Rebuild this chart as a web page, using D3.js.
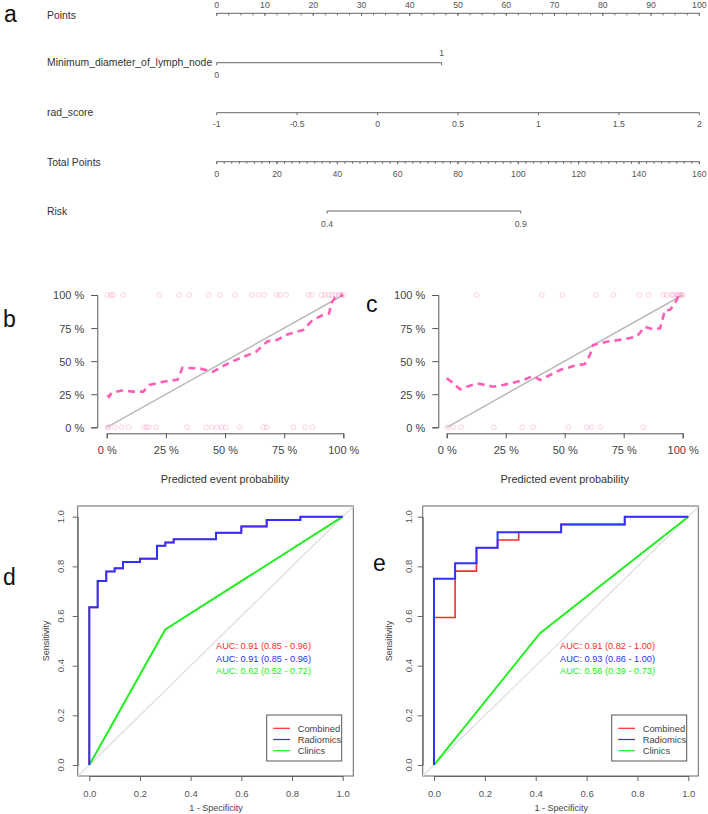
<!DOCTYPE html>
<html>
<head>
<meta charset="utf-8">
<script src="https://cdn.jsdelivr.net/npm/d3@7"></script>
<style>
  body { margin: 0; background: #fff; }
  svg { font-family: "Liberation Sans", Arial, sans-serif; }
</style>
</head>
<body>
<div id="chart"></div>
<script>
// ---------- data ----------
// nomogram (a)
const pointsTicks = d3.range(0, 101, 10);
const radScoreTicks = [-1, -0.5, 0, 0.5, 1, 1.5, 2];
const diameterLevels = ["0", "1"];
const diameterPoints = [0, 46.6];
const totalTicks = d3.range(0, 161, 20);
const riskLabels = [0.4, 0.9];
const riskTotalPoints = [36.6, 100.8];

// calibration (b)
const calB_curve = [[0.003,0.244],[0.01,0.23],[0.02,0.26],[0.07,0.28],[0.11,0.27],[0.155,0.27],[0.18,0.32],[0.24,0.345],[0.30,0.36],[0.32,0.45],[0.39,0.446],[0.45,0.42],[0.51,0.48],[0.56,0.52],[0.63,0.57],[0.68,0.65],[0.72,0.66],[0.76,0.70],[0.80,0.72],[0.83,0.735],[0.87,0.81],[0.915,0.85],[0.94,0.86],[0.95,0.94],[0.965,0.98],[1.0,1.0]];
const calB_top = [0.003,0.018,0.028,0.07,0.223,0.306,0.349,0.43,0.479,0.542,0.613,0.641,0.665,0.718,0.732,0.758,0.852,0.866,0.908,0.923,0.937,0.951,0.965,0.979,0.986,0.993,1.0];
const calB_bottom = [0.003,0.008,0.035,0.063,0.092,0.158,0.169,0.179,0.208,0.34,0.42,0.445,0.465,0.486,0.503,0.563,0.662,0.676,0.789,0.838,0.869];

// calibration (c)
const calC_curve = [[0.0,0.37],[0.02,0.345],[0.056,0.287],[0.085,0.307],[0.127,0.332],[0.162,0.32],[0.198,0.307],[0.24,0.32],[0.282,0.337],[0.325,0.358],[0.367,0.388],[0.395,0.358],[0.438,0.395],[0.48,0.433],[0.537,0.463],[0.586,0.479],[0.607,0.547],[0.62,0.622],[0.678,0.647],[0.749,0.665],[0.805,0.685],[0.84,0.76],[0.876,0.74],[0.904,0.748],[0.925,0.887],[0.946,0.887],[0.968,0.937],[0.98,0.987],[1.0,1.0]];
const calC_top = [0.127,0.403,0.49,0.631,0.706,0.816,0.855,0.918,0.932,0.953,0.96,0.975,0.982,0.989,0.996,1.0];
const calC_bottom = [0.003,0.028,0.061,0.2,0.32,0.367,0.515,0.593,0.612,0.65,0.833];

const calTicks = [0, 0.25, 0.5, 0.75, 1];

// ROC (d) training
const rocD_radiomics = [[0,0],[0,0.635],[0.033,0.635],[0.033,0.741],[0.067,0.741],[0.067,0.779],[0.1,0.779],[0.1,0.792],[0.133,0.792],[0.133,0.818],[0.2,0.818],[0.2,0.831],[0.267,0.831],[0.267,0.883],[0.3,0.883],[0.3,0.896],[0.333,0.896],[0.333,0.909],[0.5,0.909],[0.5,0.935],[0.6,0.935],[0.6,0.961],[0.7,0.961],[0.7,0.987],[0.833,0.987],[0.833,1],[1,1]];
const rocD_combined = rocD_radiomics;
const rocD_clinics = [[0,0],[0.3,0.546],[1,1]];
const aucD = ["AUC: 0.91 (0.85 - 0.96)", "AUC: 0.91 (0.85 - 0.96)", "AUC: 0.62 (0.52 - 0.72)"];

// ROC (e) validation
const rocE_combined = [[0,0],[0,0.594],[0.083,0.594],[0.083,0.781],[0.167,0.781],[0.167,0.875],[0.25,0.875],[0.25,0.906],[0.333,0.906],[0.333,0.9375],[0.5,0.9375],[0.5,0.969],[0.75,0.969],[0.75,1],[1,1]];
const rocE_radiomics = [[0,0],[0,0.75],[0.083,0.75],[0.083,0.8125],[0.167,0.8125],[0.167,0.875],[0.25,0.875],[0.25,0.9375],[0.5,0.9375],[0.5,0.969],[0.75,0.969],[0.75,1],[1,1]];
const rocE_clinics = [[0,0],[0.417,0.531],[1,1]];
const aucE = ["AUC: 0.91 (0.82 - 1.00)", "AUC: 0.93 (0.86 - 1.00)", "AUC: 0.56 (0.39 - 0.73)"];

const models = ["Combined", "Radiomics", "Clinics"];
const rocTicks = [0, 0.2, 0.4, 0.6, 0.8, 1];

// ---------- svg ----------
const svg = d3.select("#chart").append("svg")
  .attr("width", 708).attr("height", 814);

const modelColor = d3.scaleOrdinal().domain(models).range(["#ff2a2a", "#3030ff", "#22ee22"]);

// panel letters
[["a", 4, 21.5], ["b", 3, 327], ["c", 366, 312], ["d", 3, 585], ["e", 373, 571]].forEach(function (p) {
  svg.append("text").attr("x", p[1]).attr("y", p[2])
    .style("font-size", "23px").attr("fill", "#111").text(p[0]);
});

// ---------- step 1 nomogram ----------
const nomo = svg.append("g").attr("class", "nomogram");
const x0 = 216.7, x1 = 699.3;
const xPoints = d3.scaleLinear().domain([0, 100]).range([x0, x1]);
const xRad = d3.scaleLinear().domain([-1, 2]).range([x0, x1]);
const xTotal = d3.scaleLinear().domain([0, 160]).range([x0, x1]);
const xRisk = d3.scaleLinear().domain(riskLabels).range(riskTotalPoints.map(xTotal));

const nameY = [18.5, 65.5, 115.5, 166, 214.5];
["Points", "Minimum_diameter_of_lymph_node", "rad_score", "Total Points", "Risk"].forEach(function (t, i) {
  nomo.append("text").attr("x", 47).attr("y", nameY[i])
    .style("font-size", "10.4px").attr("fill", "#333").text(t);
});

function nomoAxis(y, scale, ticks, minor, labelDy) {
  const g = nomo.append("g");
  const r = d3.extent(ticks.map(scale));
  g.append("line").attr("x1", r[0]).attr("x2", r[1]).attr("y1", y).attr("y2", y)
    .attr("stroke", "#666").attr("stroke-width", 1);
  g.selectAll(".mn").data(minor).enter().append("line")
    .attr("x1", scale).attr("x2", scale).attr("y1", y).attr("y2", y + 2)
    .attr("stroke", "#666");
  g.selectAll(".mj").data(ticks).enter().append("line")
    .attr("x1", scale).attr("x2", scale).attr("y1", y).attr("y2", y + 2.5)
    .attr("stroke", "#666");
  g.selectAll("text").data(ticks).enter().append("text")
    .attr("x", scale).attr("y", y + labelDy)
    .attr("text-anchor", "middle").style("font-size", "8.7px").attr("fill", "#555")
    .text(function (d) { return d; });
}

nomoAxis(13.3, xPoints, pointsTicks, d3.range(0, 100.1, 2.5), -5.5);
nomoAxis(112.7, xRad, radScoreTicks, [], 14.6);
nomoAxis(161.7, xTotal, totalTicks, d3.range(0, 160.1, 2.5), 15);
nomoAxis(211, xRisk, riskLabels, [], 15.7);

// categorical variable
const diamY = 62.7;
nomo.append("line").attr("x1", xPoints(diameterPoints[0])).attr("x2", xPoints(diameterPoints[1]))
  .attr("y1", diamY).attr("y2", diamY).attr("stroke", "#666");
diameterPoints.forEach(function (p, i) {
  nomo.append("line").attr("x1", xPoints(p)).attr("x2", xPoints(p))
    .attr("y1", diamY).attr("y2", diamY + 2.5).attr("stroke", "#666");
  nomo.append("text").attr("x", xPoints(p)).attr("y", i === 0 ? diamY + 15 : diamY - 6.5)
    .attr("text-anchor", "middle").style("font-size", "8.7px").attr("fill", "#555")
    .text(diameterLevels[i]);
});

// ---------- step 2 calibration plots ----------
function calPlot(xL, xR, yAxisX, curve, top, bottom) {
  const g = svg.append("g");
  const xs = d3.scaleLinear().domain([0, 1]).range([xL, xR]);
  const ys = d3.scaleLinear().domain([0, 1]).range([427.3, 295]);
  const fmt = function (d) { return Math.round(d * 100) + " %"; };

  const xAxis = d3.axisBottom(xs).tickValues(calTicks).tickFormat(fmt).tickSizeOuter(0).tickSize(5).tickPadding(8);
  const yAxis = d3.axisLeft(ys).tickValues(calTicks).tickFormat(fmt).tickSizeOuter(0).tickSize(6).tickPadding(7);

  const gx = g.append("g").attr("transform", "translate(0,433.3)").call(xAxis);
  const gy = g.append("g").attr("transform", "translate(" + yAxisX + ",0)").call(yAxis);
  [gx, gy].forEach(function (a) {
    a.select(".domain").attr("stroke", "#555");
    a.selectAll(".tick line").attr("stroke", "#555");
    a.selectAll(".tick text").attr("fill", "#444").style("font-size", "11px").style("font-family", "'Liberation Sans', Arial, sans-serif");
  });
  gy.selectAll(".tick text").attr("dy", "0.36em");

  g.append("text").attr("x", (xL + xR) / 2).attr("y", 483)
    .attr("text-anchor", "middle").style("font-size", "10.9px").attr("fill", "#333")
    .text("Predicted event probability");

  g.selectAll(".top").data(top).enter().append("circle")
    .attr("cx", xs).attr("cy", ys(1)).attr("r", 2.4)
    .attr("fill", "none").attr("stroke", "#ff69b4").attr("stroke-opacity", 0.3);
  g.selectAll(".bot").data(bottom).enter().append("circle")
    .attr("cx", xs).attr("cy", ys(0)).attr("r", 2.4)
    .attr("fill", "none").attr("stroke", "#ff69b4").attr("stroke-opacity", 0.3);

  g.append("line").attr("x1", xs(0)).attr("y1", ys(0)).attr("x2", xs(1)).attr("y2", ys(1))
    .attr("stroke", "#bbbbbb").attr("stroke-width", 1.5);

  const line = d3.line().x(function (d) { return xs(d[0]); }).y(function (d) { return ys(d[1]); });
  g.append("path").datum(curve).attr("d", line)
    .attr("fill", "none").attr("stroke", "#ff5fb4").attr("stroke-width", 2.6)
    .attr("stroke-dasharray", "7,5");
}

calPlot(106.7, 343.3, 97.3, calB_curve, calB_top, calB_bottom);
calPlot(446.7, 682.7, 438.3, calC_curve, calC_top, calC_bottom);

// ---------- step 3 ROC plots ----------
function rocPlot(boxL, boxR, xL, xR, curves, aucs, aucX, tickLabX, sensX, legL) {
  const g = svg.append("g");
  const xs = d3.scaleLinear().domain([0, 1]).range([xL, xR]);
  const ys = d3.scaleLinear().domain([0, 1]).range([765, 516.7]);
  const boxT = 506, boxB = 776;

  g.append("rect").attr("x", boxL).attr("y", boxT).attr("width", boxR - boxL).attr("height", boxB - boxT)
    .attr("fill", "none").attr("stroke", "#666").attr("stroke-width", 1);

  // diagonal across the whole box
  const dx0 = xs.invert(boxL), dx1 = xs.invert(boxR);
  g.append("line").attr("x1", boxL).attr("y1", ys(dx0)).attr("x2", boxR).attr("y2", ys(dx1))
    .attr("stroke", "#dddddd").attr("stroke-width", 1.2);

  const xAxis = d3.axisBottom(xs).tickValues(rocTicks).tickFormat(d3.format(".1f")).tickSize(5).tickSizeOuter(0).tickPadding(9);
  const gx = g.append("g").attr("transform", "translate(0," + boxB + ")").call(xAxis);
  gx.select(".domain").attr("stroke", "#666");
  gx.selectAll(".tick line").attr("stroke", "#666");
  gx.selectAll(".tick text").attr("fill", "#555").style("font-size", "9.5px").style("font-family", "'Liberation Sans', Arial, sans-serif");

  const yAxis = d3.axisLeft(ys).tickValues(rocTicks).tickSize(5).tickSizeOuter(0).tickFormat("");
  const gy = g.append("g").attr("transform", "translate(" + boxL + ",0)").call(yAxis);
  gy.select(".domain").attr("stroke", "#666");
  gy.selectAll(".tick line").attr("stroke", "#666");
  g.selectAll(".ylab").data(rocTicks).enter().append("text")
    .attr("transform", function (d) { return "translate(" + tickLabX + "," + ys(d) + ") rotate(-90)"; })
    .attr("text-anchor", "middle").style("font-size", "9.5px").attr("fill", "#555")
    .text(d3.format(".1f"));

  g.append("text").attr("transform", "translate(" + sensX + "," + ((boxT + boxB) / 2) + ") rotate(-90)")
    .attr("text-anchor", "middle").style("font-size", "9px").attr("fill", "#444").text("Sensitivity");
  g.append("text").attr("x", (xL + xR) / 2).attr("y", 811)
    .attr("text-anchor", "middle").style("font-size", "9px").attr("fill", "#444").text("1 - Specificity");

  const line = d3.line().x(function (d) { return xs(d[0]); }).y(function (d) { return ys(d[1]); });
  // clinics, combined, radiomics (blue drawn over red)
  [2, 0, 1].forEach(function (i) {
    g.append("path").datum(curves[i]).attr("d", line)
      .attr("fill", "none").attr("stroke", modelColor(models[i]))
      .attr("stroke-width", i === 0 ? 1.6 : 2);
  });

  aucs.forEach(function (t, i) {
    g.append("text").attr("x", aucX).attr("y", 649 + i * 12.5)
      .style("font-size", "9.2px").attr("fill", modelColor(models[i])).text(t);
  });

  // legend
  const lg = g.append("g").attr("transform", "translate(" + legL + ",715)");
  lg.append("rect").attr("width", 75).attr("height", 46)
    .attr("fill", "#fff").attr("stroke", "#555").attr("stroke-width", 1);
  const item = lg.selectAll(".item").data(models).enter().append("g")
    .attr("transform", function (d, i) { return "translate(0," + (13.3 + i * 11.2) + ")"; });
  item.append("line").attr("x1", 6.5).attr("x2", 23.3).attr("y1", 0).attr("y2", 0)
    .attr("stroke", modelColor).attr("stroke-width", 1.2);
  item.append("text").attr("x", 31).attr("y", 0).attr("dy", "0.35em")
    .style("font-size", "9.3px").attr("fill", "#444").text(function (d) { return d; });
}

rocPlot(77.7, 353.3, 89.3, 342.7, [rocD_combined, rocD_radiomics, rocD_clinics], aucD, 216, 63.5, 48.5, 266.7);
rocPlot(422.7, 698.3, 434, 688.3, [rocE_combined, rocE_radiomics, rocE_clinics], aucE, 560, 411.5, 392, 611.7);
</script>
</body>
</html>
